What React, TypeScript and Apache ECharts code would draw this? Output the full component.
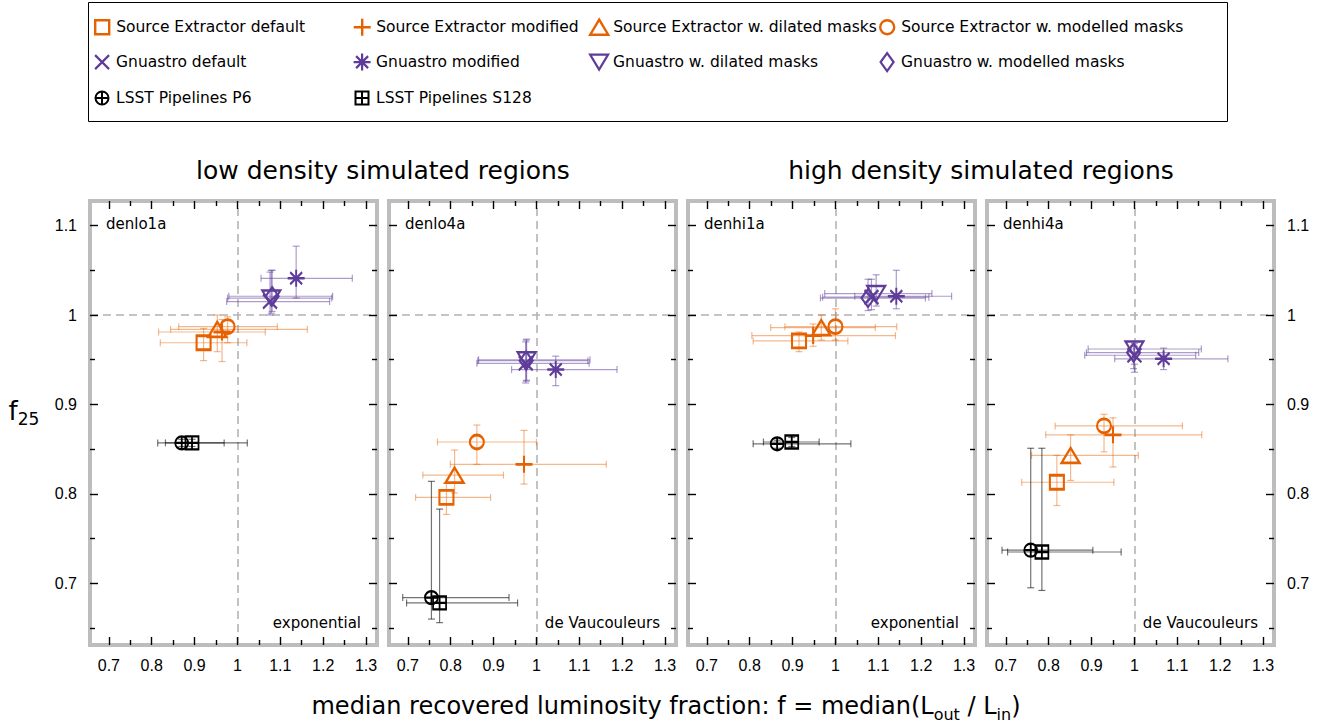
import React, { useEffect, useRef } from "react";
import * as echarts from "echarts";

const methods = [
  "Source Extractor default",
  "Source Extractor modified",
  "Source Extractor w. dilated masks",
  "Source Extractor w. modelled masks",
  "Gnuastro default",
  "Gnuastro modified",
  "Gnuastro w. dilated masks",
  "Gnuastro w. modelled masks",
  "LSST Pipelines P6",
  "LSST Pipelines S128",
];

const panelNames = ["denlo1a", "denlo4a", "denhi1a", "denhi4a"];
const profileNames = ["exponential", "de Vaucouleurs", "exponential", "de Vaucouleurs"];
const groupTitles = ["low density simulated regions", "high density simulated regions"];

// rows: [f, f25, fLow, fHigh, f25Low, f25High] in method order
const denlo1a = [
  [0.921, 0.969, 0.82, 1.022, 0.949, 0.985],
  [0.964, 0.981, 0.816, 1.065, 0.948, 0.995],
  [0.953, 0.984, 0.844, 1.163, 0.959, 1.0],
  [0.977, 0.987, 0.863, 1.093, 0.969, 0.998],
  [1.076, 1.015, 0.975, 1.215, 1.0, 1.048],
  [1.137, 1.041, 1.055, 1.268, 1.019, 1.077],
  [1.079, 1.019, 0.977, 1.22, 1.002, 1.05],
  [1.081, 1.021, 0.98, 1.222, 1.004, 1.05],
  [0.87, 0.857, 0.814, 1.023, 0.853, 0.861],
  [0.894, 0.857, 0.832, 0.969, 0.853, 0.861],
];
const denlo4a = [
  [0.79, 0.796, 0.718, 0.893, 0.777, 0.812],
  [0.971, 0.833, 0.799, 1.163, 0.811, 0.871],
  [0.809, 0.821, 0.735, 0.923, 0.801, 0.849],
  [0.861, 0.858, 0.769, 1.0, 0.833, 0.877],
  [0.975, 0.946, 0.861, 1.123, 0.924, 0.97],
  [1.045, 0.939, 0.942, 1.188, 0.921, 0.954],
  [0.977, 0.95, 0.865, 1.125, 0.927, 0.973],
  [0.976, 0.949, 0.863, 1.12, 0.926, 0.972],
  [0.755, 0.684, 0.688, 0.936, 0.66, 0.814],
  [0.774, 0.678, 0.697, 0.956, 0.656, 0.783],
];
const denhi1a = [
  [0.915, 0.971, 0.808, 1.029, 0.959, 0.981],
  [0.948, 0.977, 0.805, 1.14, 0.965, 0.99],
  [0.967, 0.986, 0.849, 1.093, 0.972, 1.0],
  [1.0, 0.987, 0.882, 1.143, 0.972, 1.007],
  [1.084, 1.02, 0.97, 1.218, 1.006, 1.04],
  [1.142, 1.021, 1.045, 1.271, 1.007, 1.05],
  [1.095, 1.024, 0.975, 1.225, 1.01, 1.045],
  [1.076, 1.019, 0.965, 1.21, 1.005, 1.04],
  [0.864, 0.856, 0.808, 1.036, 0.851, 0.86],
  [0.898, 0.858, 0.832, 0.962, 0.853, 0.863],
];
const denhi4a = [
  [0.819, 0.813, 0.737, 0.952, 0.787, 0.843],
  [0.95, 0.866, 0.793, 1.157, 0.83, 0.885],
  [0.851, 0.843, 0.76, 1.009, 0.815, 0.866],
  [0.929, 0.876, 0.815, 1.112, 0.847, 0.889],
  [1.0, 0.955, 0.884, 1.143, 0.936, 0.965],
  [1.068, 0.951, 0.954, 1.218, 0.939, 0.963],
  [1.0, 0.962, 0.892, 1.156, 0.945, 0.968],
  [0.998, 0.958, 0.888, 1.15, 0.94, 0.966],
  [0.758, 0.737, 0.691, 0.903, 0.695, 0.851],
  [0.784, 0.735, 0.704, 0.969, 0.692, 0.851],
];
const panelData = [denlo1a, denlo4a, denhi1a, denhi4a];

const xMajorTicks = [0.7, 0.8, 0.9, 1.0, 1.1, 1.2, 1.3];
const xMinorTicks = [0.75, 0.85, 0.95, 1.05, 1.15, 1.25];
const yMajorTicks = [0.7, 0.8, 0.9, 1.0, 1.1];
const yMinorTicks = [0.65, 0.75, 0.85, 0.95, 1.05];

const ORANGE = "#e66100";
const PURPLE = "#5e3c99";
const BLACK = "#000000";
const markerColors = [ORANGE, ORANGE, ORANGE, ORANGE, PURPLE, PURPLE, PURPLE, PURPLE, BLACK, BLACK];
const errColors = [
  "rgba(230,97,0,0.45)", "rgba(230,97,0,0.45)", "rgba(230,97,0,0.45)", "rgba(230,97,0,0.45)",
  "rgba(94,60,153,0.5)", "rgba(94,60,153,0.5)", "rgba(94,60,153,0.5)", "rgba(94,60,153,0.5)",
  "rgba(0,0,0,0.55)", "rgba(0,0,0,0.55)",
];
const markerWidths = [2.4, 2.4, 2.4, 2.4, 2.2, 2.2, 2.2, 2.2, 2, 2];

// frame x 3..21, y 0..24 so that every marker keeps its own size
const F = "M3,0 M21,24 ";
const markerPaths = [
  F + "M5,5 L19,5 L19,19 L5,19 Z",
  F + "M12,3.5 L12,20.5 M3.5,12 L20.5,12",
  F + "M12,4.5 L21,19.5 L3,19.5 Z",
  F + "M5,12 A7,7 0 1,1 19,12 A7,7 0 1,1 5,12 Z",
  F + "M5,5 L19,19 M19,5 L5,19",
  F + "M12,3.5 L12,20.5 M3.5,12 L20.5,12 M6,6 L18,18 M18,6 L6,18",
  F + "M3,4.5 L21,4.5 L12,19.5 Z",
  F + "M12,3 L18.5,12 L12,21 L5.5,12 Z",
  F + "M5.5,12 A6.5,6.5 0 1,1 18.5,12 A6.5,6.5 0 1,1 5.5,12 Z M12,5.5 L12,18.5 M5.5,12 L18.5,12",
  F + "M5.5,5.5 L18.5,5.5 L18.5,18.5 L5.5,18.5 Z M12,5.5 L12,18.5 M5.5,12 L18.5,12",
].map((d) => "path://" + d);

const gridLefts = [90, 389, 688, 987];
const GRID_TOP = 201;
const GRID_W = 287;
const GRID_H = 444;
const X_MIN = 0.656;
const X_MAX = 1.3256;
const Y_MIN = 0.631;
const Y_MAX = 1.1275;

const legendCols = [101, 361, 598, 886];
const legendRows = [26, 61, 97];

const fmt = (v: number) => String(Math.round(v * 100) / 100);
const LABEL_FONT = "Liberation Sans";
const TEXT_FONT = "DejaVu Sans";

function buildOption() {
  const grids = gridLefts.map((left) => ({
    left,
    top: GRID_TOP,
    width: GRID_W,
    height: GRID_H,
    show: true,
    borderColor: "#bdbdbd",
    borderWidth: 4,
    backgroundColor: "transparent",
    containLabel: false,
  }));

  const tickStyle = { color: "#000", width: 1.4 };
  const xAxes: any[] = [];
  const yAxes: any[] = [];
  gridLefts.forEach((_, i) => {
    const baseX = { type: "value", gridIndex: i, min: X_MIN, max: X_MAX, axisLine: { show: false }, splitLine: { show: false } };
    xAxes.push({
      ...baseX,
      position: "bottom",
      axisTick: { show: true, inside: true, length: 8, customValues: xMajorTicks, lineStyle: tickStyle },
      axisLabel: { show: true, customValues: xMajorTicks, formatter: fmt, fontFamily: LABEL_FONT, fontSize: 16, color: "#000", margin: 12 },
    });
    xAxes.push({
      ...baseX,
      position: "top",
      axisTick: { show: true, inside: true, length: 8, customValues: xMajorTicks, lineStyle: tickStyle },
      axisLabel: { show: false },
    });
    xAxes.push({
      ...baseX,
      position: "bottom",
      axisTick: { show: true, inside: true, length: 5, customValues: xMinorTicks, lineStyle: tickStyle },
      axisLabel: { show: false },
    });
    xAxes.push({
      ...baseX,
      position: "top",
      axisTick: { show: true, inside: true, length: 5, customValues: xMinorTicks, lineStyle: tickStyle },
      axisLabel: { show: false },
    });
    const baseY = { type: "value", gridIndex: i, min: Y_MIN, max: Y_MAX, axisLine: { show: false }, splitLine: { show: false } };
    yAxes.push({
      ...baseY,
      position: "left",
      axisTick: { show: true, inside: true, length: 8, customValues: yMajorTicks, lineStyle: tickStyle },
      axisLabel: { show: i === 0, customValues: yMajorTicks, formatter: fmt, fontFamily: LABEL_FONT, fontSize: 16, color: "#000", margin: 13 },
    });
    yAxes.push({
      ...baseY,
      position: "right",
      axisTick: { show: true, inside: true, length: 8, customValues: yMajorTicks, lineStyle: tickStyle },
      axisLabel: { show: i === 3, customValues: yMajorTicks, formatter: fmt, fontFamily: LABEL_FONT, fontSize: 16, color: "#000", margin: 13 },
    });
    yAxes.push({
      ...baseY,
      position: "left",
      axisTick: { show: true, inside: true, length: 5, customValues: yMinorTicks, lineStyle: tickStyle },
      axisLabel: { show: false },
    });
    yAxes.push({
      ...baseY,
      position: "right",
      axisTick: { show: true, inside: true, length: 5, customValues: yMinorTicks, lineStyle: tickStyle },
      axisLabel: { show: false },
    });
  });

  const series: any[] = [];
  panelData.forEach((rows, i) => {
    series.push({
      type: "custom",
      xAxisIndex: 4 * i,
      yAxisIndex: 4 * i,
      z: 1,
      silent: true,
      encode: { x: 0, y: 1 },
      data: rows.map((r, m) => [...r, m]),
      renderItem: (params: any, api: any) => {
        const x = api.value(0);
        const y = api.value(1);
        const m = api.value(6);
        const c = api.coord([x, y]);
        const l = api.coord([api.value(2), y]);
        const r = api.coord([api.value(3), y]);
        const b = api.coord([x, api.value(4)]);
        const t = api.coord([x, api.value(5)]);
        const cap = 3.5;
        const style = { stroke: errColors[m], lineWidth: 1.2, fill: null };
        const ln = (x1: number, y1: number, x2: number, y2: number) => ({ type: "line", shape: { x1, y1, x2, y2 }, style });
        return {
          type: "group",
          children: [
            ln(l[0], c[1], r[0], c[1]),
            ln(l[0], c[1] - cap, l[0], c[1] + cap),
            ln(r[0], c[1] - cap, r[0], c[1] + cap),
            ln(c[0], b[1], c[0], t[1]),
            ln(c[0] - cap, b[1], c[0] + cap, b[1]),
            ln(c[0] - cap, t[1], c[0] + cap, t[1]),
          ],
        };
      },
    });
    rows.forEach((r, m) => {
      const s: any = {
        type: "scatter",
        name: methods[m],
        xAxisIndex: 4 * i,
        yAxisIndex: 4 * i,
        z: 2 + m * 0.01,
        data: [[r[0], r[1]]],
        symbol: markerPaths[m],
        symbolSize: [18, 24],
        symbolKeepAspect: false,
        itemStyle: { color: "rgba(0,0,0,0)", borderColor: markerColors[m], borderWidth: markerWidths[m], opacity: 1 },
        emphasis: { disabled: true },
        silent: true,
      };
      if (m === 0) {
        s.markLine = {
          silent: true,
          symbol: "none",
          label: { show: false },
          lineStyle: { color: "#b3b3b3", type: [8, 5], width: 1.6 },
          data: [{ xAxis: 1 }, { yAxis: 1 }],
          z: 0,
        };
      }
      series.push(s);
    });
  });

  const legends = methods.map((name, m) => ({
    show: true,
    selectedMode: false,
    orient: "horizontal",
    left: legendCols[m % 4] - 9,
    top: legendRows[Math.floor(m / 4)] - 12,
    padding: 0,
    itemWidth: 18,
    itemHeight: 24,
    textStyle: { fontFamily: TEXT_FONT, fontSize: 15.5, color: "#000" },
    data: [
      {
        name,
        icon: markerPaths[m],
        itemStyle: { color: "rgba(0,0,0,0)", borderColor: markerColors[m], borderWidth: markerWidths[m] },
      },
    ],
  }));

  const graphic: any[] = [
    {
      type: "rect",
      shape: { x: 88.5, y: 2.5, width: 1139, height: 119 },
      style: { fill: "none", stroke: "#000", lineWidth: 1 },
      silent: true,
    },
    {
      type: "text",
      x: (gridLefts[0] + gridLefts[1] + GRID_W) / 2,
      y: 170,
      style: { text: groupTitles[0], fill: "#000", font: `25px '${TEXT_FONT}'`, align: "center", verticalAlign: "middle" },
    },
    {
      type: "text",
      x: (gridLefts[2] + gridLefts[3] + GRID_W) / 2,
      y: 170,
      style: { text: groupTitles[1], fill: "#000", font: `25px '${TEXT_FONT}'`, align: "center", verticalAlign: "middle" },
    },
    {
      type: "text",
      x: 666,
      y: 706,
      style: {
        text: "{a|median recovered luminosity fraction: f = median(L}{b|out}{a| / L}{b|in}{a|)}",
        align: "center",
        verticalAlign: "middle",
        rich: {
          a: { fontFamily: TEXT_FONT, fontSize: 24, fill: "#000", lineHeight: 30 },
          b: { fontFamily: TEXT_FONT, fontSize: 16, fill: "#000", padding: [17, 0, 0, 0] },
        },
      },
    },
    {
      type: "text",
      x: 24,
      y: 411,
      style: {
        text: "{a|f}{b|25}",
        align: "center",
        verticalAlign: "middle",
        rich: {
          a: { fontFamily: TEXT_FONT, fontSize: 26, fill: "#000", lineHeight: 30 },
          b: { fontFamily: TEXT_FONT, fontSize: 17, fill: "#000", padding: [16, 0, 0, 0] },
        },
      },
    },
  ];
  gridLefts.forEach((left, i) => {
    graphic.push({
      type: "text",
      x: left + 16,
      y: 224,
      style: { text: panelNames[i], fill: "#000", font: `15px '${TEXT_FONT}'`, align: "left", verticalAlign: "middle" },
    });
    graphic.push({
      type: "text",
      x: left + 271,
      y: 623,
      style: { text: profileNames[i], fill: "#000", font: `15px '${TEXT_FONT}'`, align: "right", verticalAlign: "middle" },
    });
  });

  return {
    animation: false,
    backgroundColor: "#ffffff",
    grid: grids,
    xAxis: xAxes,
    yAxis: yAxes,
    legend: legends,
    series,
    graphic,
  };
}

export default function App() {
  const ref = useRef<HTMLDivElement>(null);
  useEffect(() => {
    if (!ref.current) return;
    const chart = echarts.init(ref.current, undefined, { renderer: "svg" });
    chart.setOption(buildOption() as any);
    return () => chart.dispose();
  }, []);
  return (
    <div
      ref={ref}
      style={{ position: "fixed", left: 0, top: 0, width: 1326, height: 727, background: "#fff" }}
    />
  );
}
